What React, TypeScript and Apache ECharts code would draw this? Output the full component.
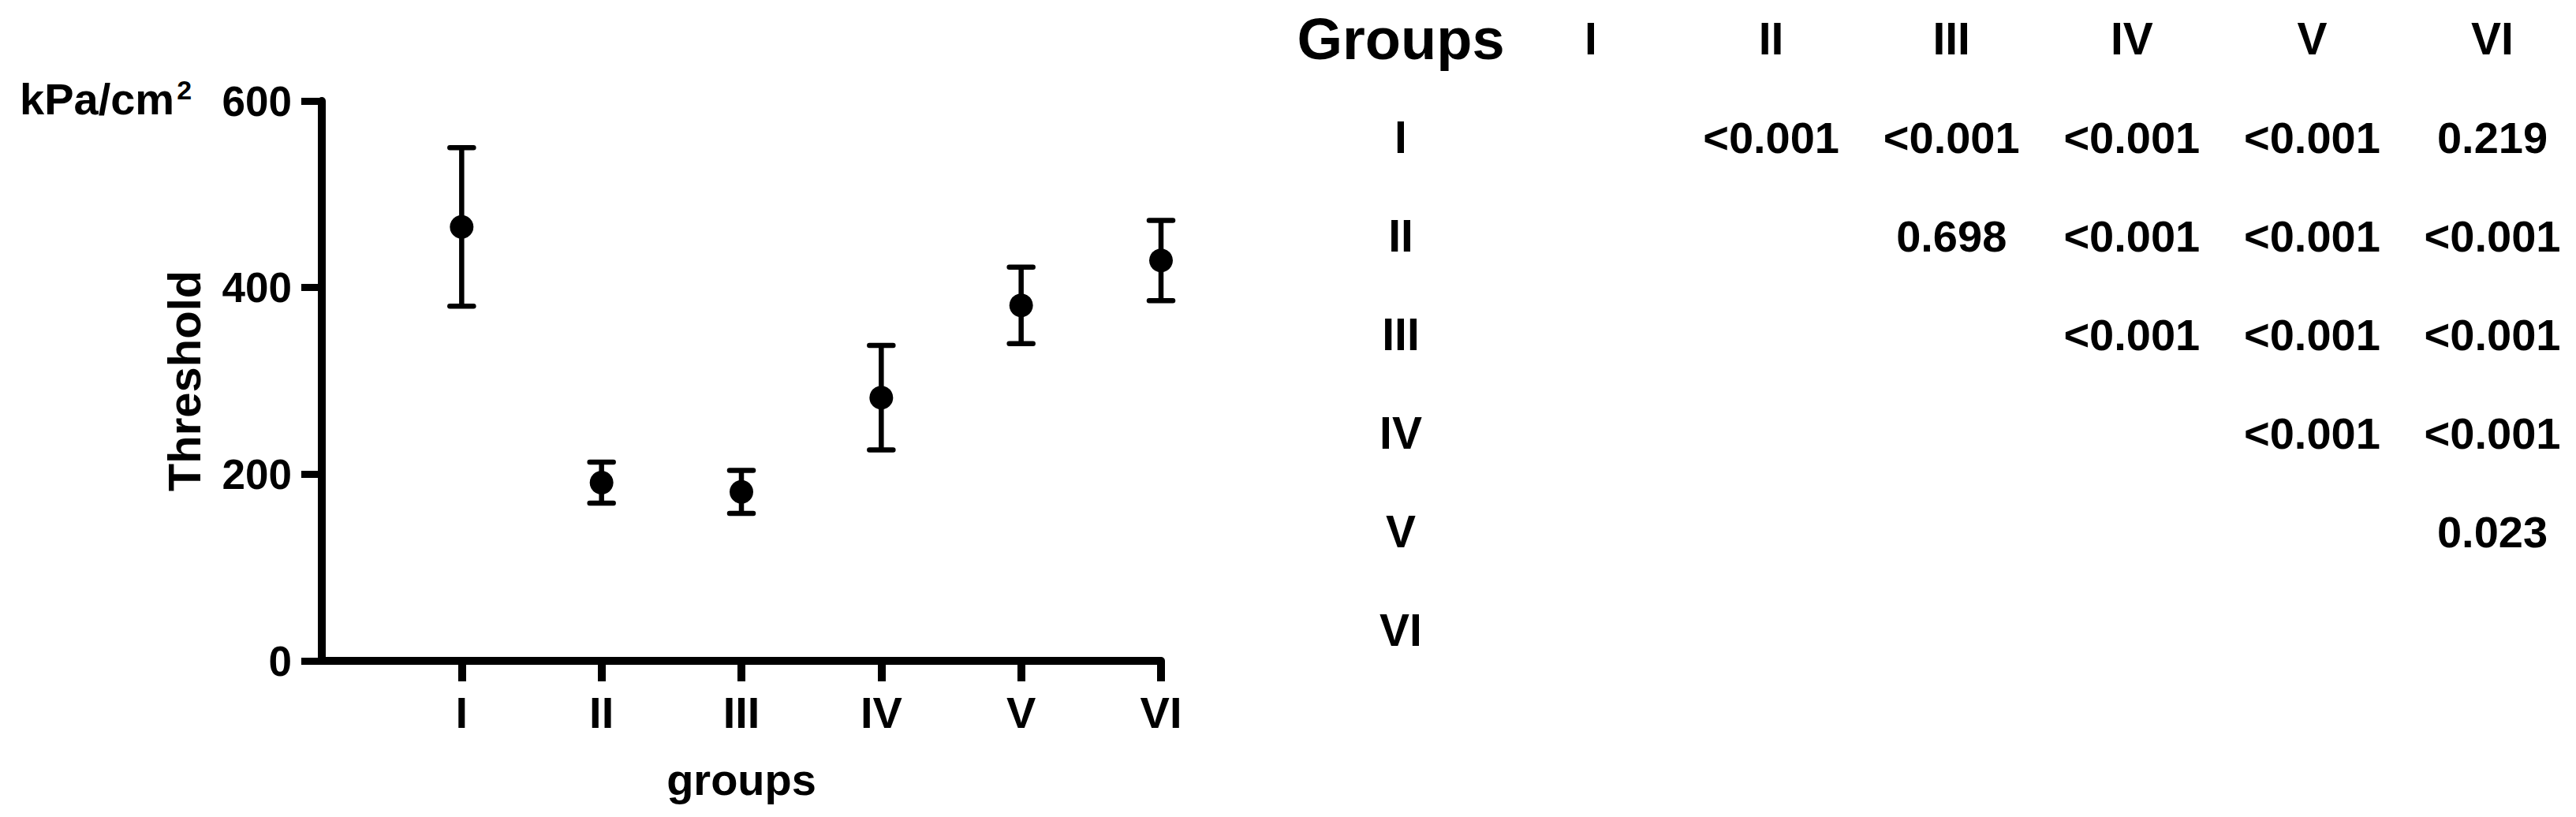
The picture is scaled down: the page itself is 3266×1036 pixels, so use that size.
import React, { useEffect, useRef } from "react";
import * as echarts from "echarts";

// ---- data ----
const groups = ["I", "II", "III", "IV", "V", "VI"];
const groupPositions = [1, 2, 3, 4, 5, 6];
const thresholdMeans = [465, 191, 181, 282, 381, 429];
const thresholdErrors = [85, 22, 23, 56, 41, 43];
const yAxisMin = 0;
const yAxisMax = 600;
const yAxisInterval = 200;

const tableCorner = "Groups";
const tableRows = ["Groups", "I", "II", "III", "IV", "V", "VI"];
const pRowI = ["", "<0.001", "<0.001", "<0.001", "<0.001", "0.219"];
const pRowII = ["", "", "0.698", "<0.001", "<0.001", "<0.001"];
const pRowIII = ["", "", "", "<0.001", "<0.001", "<0.001"];
const pRowIV = ["", "", "", "", "<0.001", "<0.001"];
const pRowV = ["", "", "", "", "", "0.023"];
const pRowVI = ["", "", "", "", "", ""];
const pValueRows = [pRowI, pRowII, pRowIII, pRowIV, pRowV, pRowVI];

const FONT = "Liberation Sans";

export default function App() {
  const ref = useRef<HTMLDivElement>(null);

  useEffect(() => {
    document.body.style.margin = "0";
    if (!ref.current) return;
    const chart = echarts.init(ref.current, undefined, { renderer: "svg" });

    const cells: any[] = [];
    pValueRows.forEach((row, ri) => {
      row.forEach((txt, ci) => {
        if (txt) cells.push([groups[ci], groups[ri], txt]);
      });
    });

    const option: any = {
      animation: false,
      backgroundColor: "#ffffff",
      textStyle: { fontFamily: FONT, fontWeight: "bold", color: "#000" },
      title: {
        text: "{a|kPa/cm}{s|2}",
        left: 25,
        top: 97,
        padding: 0,
        textStyle: {
          fontFamily: FONT,
          fontWeight: "bold",
          fontSize: 56,
          color: "#000",
          rich: {
            a: { fontFamily: FONT, fontWeight: "bold", fontSize: 56, lineHeight: 56, color: "#000" },
            s: {
              fontFamily: FONT,
              fontWeight: "bold",
              fontSize: 34,
              lineHeight: 34,
              verticalAlign: "top",
              color: "#000",
              padding: [0, 0, 0, 3],
            },
          },
        },
      },
      grid: [
        { left: 408, top: 128, width: 1064, height: 710 },
        { left: 2017, top: 49, width: 1143, height: 750 },
      ],
      xAxis: [
        {
          gridIndex: 0,
          type: "value",
          min: 0,
          max: 6,
          interval: 1,
          name: "groups",
          nameLocation: "middle",
          nameGap: 122,
          nameTextStyle: { fontFamily: FONT, fontWeight: "bold", fontSize: 56, color: "#000" },
          axisLine: { show: true, lineStyle: { color: "#000", width: 10 } },
          axisTick: {
            show: true,
            customValues: groupPositions,
            length: 26,
            lineStyle: { color: "#000", width: 10 },
          },
          axisLabel: {
            customValues: groupPositions,
            formatter: (v: number) => groups[Math.round(v) - 1] ?? "",
            fontFamily: FONT,
            fontWeight: "bold",
            fontSize: 56,
            color: "#000",
            margin: 37,
          },
          splitLine: { show: false },
        },
        {
          gridIndex: 1,
          type: "category",
          position: "top",
          data: groups,
          boundaryGap: false,
          axisLine: { show: false },
          axisTick: { show: false },
          axisLabel: {
            interval: 0,
            fontFamily: FONT,
            fontWeight: "bold",
            fontSize: 57,
            color: "#000",
            margin: 0,
            verticalAlign: "middle",
          },
          splitLine: { show: false },
        },
      ],
      yAxis: [
        {
          gridIndex: 0,
          type: "value",
          min: yAxisMin,
          max: yAxisMax,
          interval: yAxisInterval,
          name: "Threshold",
          nameLocation: "middle",
          nameGap: 146,
          nameRotate: 90,
          nameTextStyle: { fontFamily: FONT, fontWeight: "bold", fontSize: 58, color: "#000" },
          axisLine: { show: true, lineStyle: { color: "#000", width: 10 } },
          axisTick: { show: true, length: 26, lineStyle: { color: "#000", width: 9 } },
          axisLabel: {
            fontFamily: FONT,
            fontWeight: "bold",
            fontSize: 53,
            color: "#000",
            margin: 38,
          },
          splitLine: { show: false },
        },
        {
          gridIndex: 1,
          type: "category",
          inverse: true,
          data: tableRows,
          boundaryGap: false,
          axisLine: { show: false },
          axisTick: { show: false },
          axisLabel: {
            interval: 0,
            margin: 241,
            align: "center",
            verticalAlign: "middle",
            fontFamily: FONT,
            fontWeight: "bold",
            fontSize: 57,
            color: "#000",
            formatter: (v: string) => (v === tableCorner ? "{big|" + v + "}" : v),
            rich: {
              big: { fontFamily: FONT, fontWeight: "bold", fontSize: 74, color: "#000" },
            },
          },
          splitLine: { show: false },
        },
      ],
      series: [
        {
          type: "custom",
          xAxisIndex: 0,
          yAxisIndex: 0,
          data: groupPositions.map((x, i) => [
            x,
            thresholdMeans[i] - thresholdErrors[i],
            thresholdMeans[i] + thresholdErrors[i],
          ]),
          encode: { x: 0, y: [1, 2] },
          renderItem: (params: any, api: any) => {
            const x = api.value(0);
            const lo = api.coord([x, api.value(1)]);
            const hi = api.coord([x, api.value(2)]);
            const hw = 15;
            const style = { stroke: "#000", lineWidth: 6.5, fill: "none", lineCap: "round" };
            return {
              type: "group",
              children: [
                { type: "line", shape: { x1: lo[0], y1: lo[1], x2: hi[0], y2: hi[1] }, style: { stroke: "#000", lineWidth: 6.5 } },
                { type: "line", shape: { x1: lo[0] - hw, y1: lo[1], x2: lo[0] + hw, y2: lo[1] }, style },
                { type: "line", shape: { x1: hi[0] - hw, y1: hi[1], x2: hi[0] + hw, y2: hi[1] }, style },
              ],
            };
          },
          z: 2,
        },
        {
          type: "scatter",
          xAxisIndex: 0,
          yAxisIndex: 0,
          data: groupPositions.map((x, i) => [x, thresholdMeans[i]]),
          symbol: "circle",
          symbolSize: 30,
          itemStyle: { color: "#000", opacity: 1 },
          z: 3,
        },
        {
          type: "scatter",
          xAxisIndex: 1,
          yAxisIndex: 1,
          data: cells,
          symbolSize: 1,
          itemStyle: { color: "rgba(0,0,0,0)", opacity: 1 },
          label: {
            show: true,
            position: "inside",
            formatter: (p: any) => p.value[2],
            fontFamily: FONT,
            fontWeight: "bold",
            fontSize: 56,
            color: "#000",
            textBorderWidth: 0,
          },
        },
      ],
    };

    chart.setOption(option);
    return () => chart.dispose();
  }, []);

  return <div ref={ref} style={{ width: 3266, height: 1036 }} />;
}
